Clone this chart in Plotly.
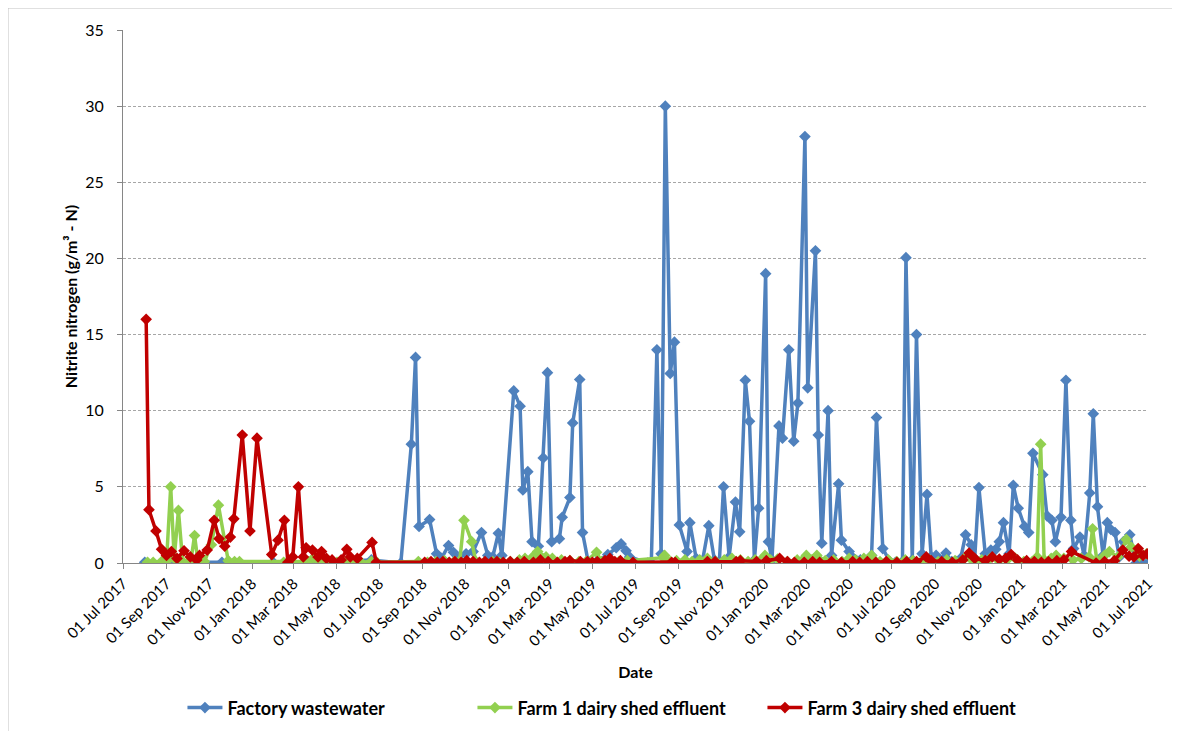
import plotly.graph_objects as go

# Factory wastewater
factory_dates = [
    "2017-08-01", "2017-09-07", "2017-10-15", "2017-11-19", "2018-01-31", "2018-03-24",
    "2018-06-20", "2018-08-01", "2018-08-16", "2018-08-22", "2018-08-27", "2018-09-11",
    "2018-09-21", "2018-09-28", "2018-10-08", "2018-10-15", "2018-10-22", "2018-11-02",
    "2018-11-12", "2018-11-24", "2018-12-03", "2018-12-10", "2018-12-18", "2018-12-23",
    "2019-01-09", "2019-01-18", "2019-01-22", "2019-01-29", "2019-02-04", "2019-02-13",
    "2019-02-20", "2019-02-26", "2019-03-04", "2019-03-15", "2019-03-19", "2019-03-30",
    "2019-04-03", "2019-04-13", "2019-04-17", "2019-04-25", "2019-05-06", "2019-05-23",
    "2019-06-04", "2019-06-11", "2019-06-18", "2019-06-23", "2019-07-19", "2019-07-24",
    "2019-08-01", "2019-08-07", "2019-08-13", "2019-08-20", "2019-08-26", "2019-09-02",
    "2019-09-13", "2019-09-17", "2019-09-26", "2019-10-05", "2019-10-14", "2019-10-22",
    "2019-10-29", "2019-11-04", "2019-11-12", "2019-11-21", "2019-11-27", "2019-12-05",
    "2019-12-11", "2019-12-18", "2019-12-24", "2020-01-03", "2020-01-07", "2020-01-12",
    "2020-01-22", "2020-01-27", "2020-02-05", "2020-02-12", "2020-02-18", "2020-02-28",
    "2020-03-03", "2020-03-14", "2020-03-18", "2020-03-23", "2020-04-01", "2020-04-06",
    "2020-04-16", "2020-04-20", "2020-05-01", "2020-05-17", "2020-05-25", "2020-06-02",
    "2020-06-09", "2020-06-18", "2020-06-28", "2020-07-06", "2020-07-16", "2020-07-21",
    "2020-07-30", "2020-08-05", "2020-08-13", "2020-08-20", "2020-08-26", "2020-09-02",
    "2020-09-08", "2020-09-16", "2020-09-24", "2020-10-01", "2020-10-07", "2020-10-14",
    "2020-10-22", "2020-10-27", "2020-11-02", "2020-11-11", "2020-11-19", "2020-11-26",
    "2020-12-01", "2020-12-07", "2020-12-15", "2020-12-21", "2020-12-28", "2021-01-06",
    "2021-01-12", "2021-01-18", "2021-02-01", "2021-02-07", "2021-02-14", "2021-02-19",
    "2021-02-27", "2021-03-06", "2021-03-13", "2021-03-17", "2021-03-26", "2021-04-01",
    "2021-04-09", "2021-04-14", "2021-04-20", "2021-04-28", "2021-05-04", "2021-05-09",
    "2021-05-15", "2021-05-21", "2021-05-27", "2021-06-05", "2021-06-14", "2021-06-22",
    "2021-06-30",
]
factory_values = [
    0.05, 0.0, 0.05, 0.05, 0.05, 0.05,
    0.2, 0.0, 7.8, 13.5, 2.4, 2.85,
    0.6, 0.3, 1.15, 0.7, 0.3, 0.6,
    0.75, 2.0, 0.5, 0.4, 1.95, 0.5,
    11.3, 10.3, 4.8, 6.0, 1.4, 1.1,
    6.9, 12.5, 1.4, 1.6, 3.0, 4.3,
    9.2, 12.05, 2.0, 0.1, 0.05, 0.55,
    1.0, 1.25, 0.8, 0.4, 0.0, 0.0,
    14.0, 0.6, 30.0, 12.45, 14.5, 2.5,
    0.75, 2.65, 0.3, 0.15, 2.45, 0.2,
    0.1, 5.0, 0.4, 4.0, 2.05, 12.0,
    9.3, 0.2, 3.6, 19.0, 1.4, 0.2,
    9.0, 8.2, 14.0, 8.0, 10.5, 28.0,
    11.5, 20.5, 8.4, 1.3, 10.0, 0.5,
    5.2, 1.5, 0.75, 0.2, 0.1, 0.5,
    9.55, 0.95, 0.1, 0.05, 0.1, 20.05,
    0.2, 15.0, 0.6, 4.5, 0.4, 0.5,
    0.2, 0.65, 0.1, 0.1, 0.3, 1.85,
    1.2, 0.3, 4.95, 0.6, 0.85, 0.9,
    1.4, 2.65, 0.6, 5.1, 3.6, 2.4,
    2.0, 7.2, 5.8, 3.1, 2.8, 1.4,
    3.0, 12.0, 2.8, 0.95, 1.7, 0.5,
    4.6, 9.8, 3.7, 0.5, 2.65, 2.2,
    2.0, 0.4, 1.4, 1.85, 0.0, 0.0,
    0.0,
]

# Farm 1 dairy shed effluent
farm1_dates = [
    "2017-08-05", "2017-08-13", "2017-08-25", "2017-09-01", "2017-09-07", "2017-09-12",
    "2017-09-18", "2017-09-24", "2017-10-02", "2017-10-06", "2017-10-11", "2017-10-16",
    "2017-10-25", "2017-11-04", "2017-11-14", "2017-11-28", "2017-12-07", "2017-12-14",
    "2018-02-15", "2018-03-22", "2018-03-30", "2018-04-08", "2018-04-20", "2018-05-02",
    "2018-05-14", "2018-05-24", "2018-06-05", "2018-06-20", "2018-06-28", "2018-08-26",
    "2018-09-08", "2018-09-20", "2018-10-02", "2018-10-16", "2018-10-24", "2018-10-30",
    "2018-11-10", "2018-11-16", "2018-11-28", "2018-12-10", "2018-12-20", "2019-01-04",
    "2019-01-17", "2019-01-25", "2019-02-05", "2019-02-12", "2019-02-24", "2019-03-05",
    "2019-03-18", "2019-03-30", "2019-04-12", "2019-04-22", "2019-05-07", "2019-05-14",
    "2019-05-26", "2019-06-08", "2019-06-20", "2019-08-10", "2019-08-12", "2019-08-20",
    "2019-08-29", "2019-09-10", "2019-09-20", "2019-10-01", "2019-10-12", "2019-10-24",
    "2019-11-05", "2019-11-16", "2019-11-28", "2019-12-09", "2019-12-19", "2020-01-02",
    "2020-01-10", "2020-01-20", "2020-02-03", "2020-02-17", "2020-03-01", "2020-03-09",
    "2020-03-16", "2020-03-28", "2020-04-09", "2020-04-21", "2020-05-01", "2020-05-10",
    "2020-05-22", "2020-06-02", "2020-06-14", "2020-06-26", "2020-07-08", "2020-07-20",
    "2020-07-31", "2020-08-12", "2020-08-24", "2020-09-05", "2020-09-17", "2020-09-29",
    "2020-10-12", "2020-10-25", "2020-11-06", "2020-11-18", "2020-11-30", "2020-12-12",
    "2020-12-24", "2021-01-05", "2021-01-17", "2021-01-24", "2021-01-29", "2021-02-03",
    "2021-02-13", "2021-02-20", "2021-03-03", "2021-03-16", "2021-03-28", "2021-04-08",
    "2021-04-13", "2021-04-19", "2021-04-30", "2021-05-07", "2021-05-19", "2021-05-31",
    "2021-06-07", "2021-06-19", "2021-06-29",
]
farm1_values = [
    0.05, 0.05, 0.1, 0.1, 5.0, 0.3,
    3.45, 0.1, 0.05, 0.2, 1.8, 0.05,
    0.1, 1.2, 3.8, 0.15, 0.1, 0.1,
    0.05, 0.1, 0.35, 0.05, 0.15, 0.05,
    0.05, 0.1, 0.05, 0.1, 0.05, 0.1,
    0.05, 0.1, 0.15, 0.1, 0.15, 2.8,
    1.4, 0.1, 0.05, 0.1, 0.05, 0.1,
    0.2, 0.3, 0.4, 0.75, 0.4, 0.3,
    0.2, 0.15, 0.1, 0.1, 0.7, 0.1,
    0.15, 0.1, 0.15, 0.35, 0.5, 0.1,
    0.15, 0.2, 0.1, 0.2, 0.3, 0.1,
    0.2, 0.3, 0.2, 0.1, 0.2, 0.5,
    0.2, 0.25, 0.1, 0.2, 0.5, 0.2,
    0.5, 0.15, 0.2, 0.1, 0.3, 0.2,
    0.3, 0.5, 0.1, 0.2, 0.1, 0.2,
    0.15, 0.1, 0.2, 0.1, 0.2, 0.15,
    0.3, 0.1, 0.2, 0.3, 0.15, 0.2,
    0.3, 0.1, 0.1, 0.4, 7.8, 0.2,
    0.3, 0.5, 0.3, 0.2, 0.3, 0.4,
    2.25, 0.2, 0.5, 0.75, 0.4, 1.55,
    1.05, 0.45, 0.6,
]

# Farm 3 dairy shed effluent
farm3_dates = [
    "2017-08-03", "2017-08-07", "2017-08-17", "2017-08-25", "2017-09-01", "2017-09-08",
    "2017-09-16", "2017-09-26", "2017-10-05", "2017-10-14", "2017-10-18", "2017-10-29",
    "2017-11-08", "2017-11-15", "2017-11-23", "2017-12-01", "2017-12-06", "2017-12-18",
    "2017-12-29", "2018-01-08", "2018-01-29", "2018-02-07", "2018-02-16", "2018-02-21",
    "2018-02-28", "2018-03-08", "2018-03-15", "2018-03-19", "2018-03-28", "2018-04-05",
    "2018-04-10", "2018-04-17", "2018-04-25", "2018-05-04", "2018-05-08", "2018-05-16",
    "2018-05-21", "2018-05-31", "2018-06-21", "2018-06-27", "2018-09-04", "2018-09-13",
    "2018-09-22", "2018-09-30", "2018-10-09", "2018-10-17", "2018-10-26", "2018-11-03",
    "2018-11-12", "2018-11-21", "2018-11-29", "2018-12-08", "2018-12-16", "2018-12-25",
    "2019-01-04", "2019-01-14", "2019-01-24", "2019-02-06", "2019-02-16", "2019-02-27",
    "2019-03-12", "2019-03-23", "2019-03-30", "2019-04-14", "2019-04-24", "2019-05-01",
    "2019-05-08", "2019-05-19", "2019-05-26", "2019-06-02", "2019-06-10", "2019-06-28",
    "2019-08-22", "2019-08-27", "2019-10-12", "2019-10-23", "2019-11-22", "2019-11-28",
    "2019-12-21", "2020-01-04", "2020-01-23", "2020-02-03", "2020-02-13", "2020-02-27",
    "2020-03-10", "2020-03-20", "2020-04-06", "2020-04-20", "2020-05-06", "2020-05-16",
    "2020-05-27", "2020-06-08", "2020-06-23", "2020-07-08", "2020-07-22", "2020-08-05",
    "2020-08-19", "2020-08-26", "2020-09-10", "2020-09-25", "2020-10-10", "2020-10-19",
    "2020-10-27", "2020-11-11", "2020-11-21", "2020-12-01", "2020-12-10", "2020-12-18",
    "2020-12-27", "2021-01-09", "2021-01-20", "2021-01-30", "2021-02-09", "2021-02-21",
    "2021-03-03", "2021-03-14", "2021-04-18", "2021-04-30", "2021-05-14", "2021-05-26",
    "2021-06-04", "2021-06-11", "2021-06-17", "2021-06-24", "2021-06-30",
]
farm3_values = [
    16.0, 3.5, 2.1, 0.9, 0.5, 0.75,
    0.3, 0.8, 0.4, 0.2, 0.5, 0.85,
    2.8, 1.6, 1.1, 1.7, 2.9, 8.4,
    2.1, 8.2, 0.55, 1.5, 2.8, 0.05,
    0.4, 5.0, 0.4, 1.0, 0.85, 0.4,
    0.75, 0.3, 0.2, 0.0, 0.2, 0.9,
    0.4, 0.3, 1.35, 0.05, 0.05, 0.1,
    0.05, 0.1, 0.05, 0.1, 0.05, 0.15,
    0.1, 0.05, 0.1, 0.05, 0.1, 0.05,
    0.1, 0.05, 0.1, 0.05, 0.2, 0.1,
    0.05, 0.1, 0.15, 0.1, 0.1, 0.05,
    0.1, 0.15, 0.3, 0.1, 0.15, 0.05,
    0.05, 0.05, 0.1, 0.1, 0.1, 0.15,
    0.1, 0.15, 0.3, 0.1, 0.05, 0.05,
    0.1, 0.05, 0.1, 0.05, 0.1, 0.05,
    0.1, 0.05, 0.1, 0.05, 0.1, 0.1,
    0.4, 0.15, 0.1, 0.05, 0.2, 0.65,
    0.3, 0.15, 0.4, 0.25, 0.3, 0.55,
    0.2, 0.15, 0.1, 0.05, 0.1, 0.15,
    0.2, 0.75, 0.0, 0.1, 0.15, 0.85,
    0.45, 0.4, 0.95, 0.5, 0.6,
]

series = [
    ("Factory wastewater", factory_dates, factory_values, "#4F81BD"),
    ("Farm 1 dairy shed effluent", farm1_dates, farm1_values, "#92D050"),
    ("Farm 3 dairy shed effluent", farm3_dates, farm3_values, "#C00000"),
]

FONT = "Lato, 'Liberation Sans', sans-serif"

fig = go.Figure()
for name, xs, ys, color in series:
    fig.add_trace(go.Scatter(
        x=xs, y=ys, name=name, mode="lines+markers",
        line=dict(color=color, width=3.5),
        marker=dict(symbol="diamond", size=9, color=color),
    ))

# page body has an 8px margin, so the figure is shrunk by that much
fig.update_layout(
    width=1172, height=723,
    margin=dict(l=115, r=32, t=22, b=168),
    plot_bgcolor="white", paper_bgcolor="white",
    font=dict(family=FONT, size=15, color="black"),
    showlegend=True,
    legend=dict(
        orientation="h", x=0.058, xanchor="left",
        yref="container", y=0.032, yanchor="middle",
        font=dict(size=18, family=FONT, weight="bold"),
        entrywidth=240, itemwidth=35,
    ),
    shapes=[dict(type="rect", xref="paper", yref="paper",
                 x0=-0.1122, x1=1.0263, y0=-0.36, y1=1.0413,
                 line=dict(color="#BFBFBF", width=1))],
)

fig.update_xaxes(
    type="date", range=["2017-07-01", "2021-07-01"],
    tick0="2017-07-01", dtick="M2", tickformat="%d %b %Y", tickangle=-45,
    ticks="outside", ticklen=5, tickcolor="#868686",
    showline=True, linecolor="#868686", linewidth=1,
    showgrid=False, zeroline=False, automargin=False,
    tickfont=dict(size=15, family=FONT),
    title=dict(text="Date", font=dict(size=16, family=FONT, weight="bold"), standoff=18),
)
fig.update_yaxes(
    range=[0, 35], dtick=5, tick0=0,
    ticks="outside", ticklen=5, tickcolor="#868686",
    showline=True, linecolor="#868686", linewidth=1,
    showgrid=True, gridcolor="#A6A6A6", griddash="3px,2px", gridwidth=1,
    zeroline=False, ticklabelstandoff=10, automargin=False,
    tickfont=dict(size=16, family=FONT),
    title=dict(text="Nitrite nitrogen (g/m³ - N)", font=dict(size=16, family=FONT, weight="bold"), standoff=3),
)

fig.write_html("out.html")
